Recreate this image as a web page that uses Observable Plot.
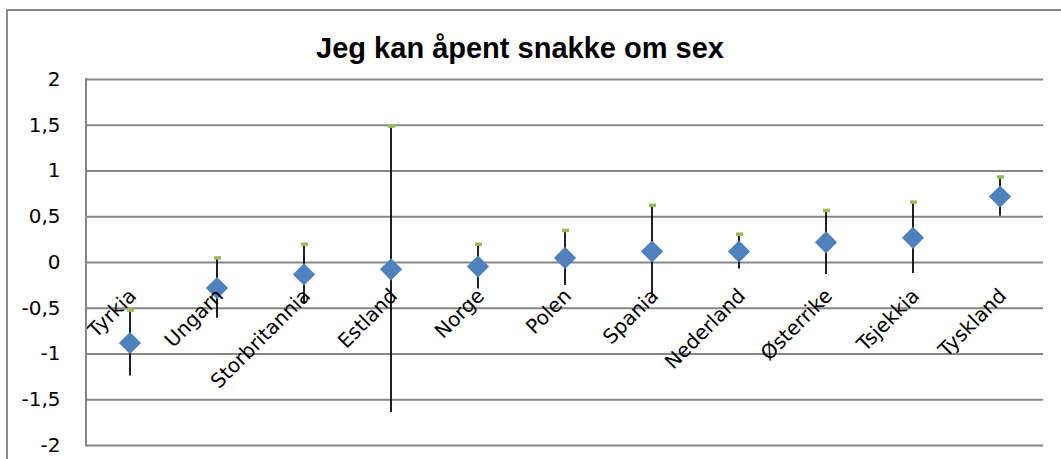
<!DOCTYPE html>
<html><head><meta charset="utf-8">
<script src="https://cdn.jsdelivr.net/npm/d3@7"></script>
<script src="https://cdn.jsdelivr.net/npm/@observablehq/plot@0.6"></script>
<style>
body{margin:0;background:#fff;overflow:hidden}
#wrap{position:relative;width:1061px;height:459px;overflow:hidden;background:#fff}
#border{position:absolute;left:6px;top:9px;width:1200px;height:600px;border:2px solid #8a8a8a}
#title{position:absolute;left:0;width:1040px;top:32px;line-height:32px;text-align:center;font:bold 29px "Liberation Sans",Arial,sans-serif;color:#000;margin:0}
#chart{position:absolute;left:0;top:60px}
</style></head>
<body>
<div id="wrap">
  <div id="border"></div>
  <h2 id="title">Jeg kan åpent snakke om sex</h2>
  <div id="chart"></div>
</div>
<script>
const countries = ["Tyrkia","Ungarn","Storbritannia","Estland","Norge","Polen","Spania","Nederland","Østerrike","Tsjekkia","Tyskland"];
const means = [-0.88, -0.28, -0.13, -0.075, -0.045, 0.05, 0.12, 0.12, 0.22, 0.27, 0.72];
const errors = [0.36, 0.33, 0.33, 1.565, 0.245, 0.30, 0.505, 0.19, 0.35, 0.39, 0.215];
const yTicks = [-2, -1.5, -1, -0.5, 0, 0.5, 1, 1.5, 2];

const data = countries.map((c, i) => ({country: c, mean: means[i], lo: means[i] - errors[i], hi: means[i] + errors[i]}));
const fmt = d => String(d).replace(".", ",");

const chart = Plot.plot({
  width: 1061,
  height: 399,
  marginTop: 19,
  marginBottom: 14,
  marginLeft: 86,
  marginRight: 18,
  style: {fontFamily: "DejaVu Sans", fontSize: "20px", color: "#000", background: "transparent"},
  x: {type: "band", domain: countries, padding: 0},
  y: {domain: [-2, 2]},
  marks: [
    Plot.gridY(yTicks, {stroke: "#878787", strokeOpacity: 1, strokeWidth: 2}),
    Plot.axisY(yTicks, {tickFormat: fmt, tickSize: 0, tickPadding: 26, fontSize: 20, label: null}),
    Plot.ruleX(data, {x: "country", y1: "lo", y2: "hi", stroke: "#000", strokeWidth: 1.75}),
    Plot.tickY(data, {x: "country", y: "hi", stroke: "#9BBB59", strokeWidth: 3.5, insetLeft: 41, insetRight: 39}),
    Plot.dot(data, {x: "country", y: "mean", symbol: "diamond2", r: 10, fill: "#4F81BD", stroke: "none"}),
    Plot.axisX({tickRotate: -45, tickSize: 0, tickPadding: -153, fontSize: 20, label: null, dx: 3})
  ]
});
d3.select(chart).selectAll("text").style("font-family", "'DejaVu Sans'").style("font-size", "20px");
const ys = chart.scale("y");
d3.select(chart).append("line")
  .attr("x1", 86).attr("x2", 86)
  .attr("y1", ys.apply(2) - 1).attr("y2", ys.apply(-2) + 1)
  .attr("stroke", "#878787").attr("stroke-width", 2);
document.getElementById("chart").appendChild(chart);
</script>
</body></html>
